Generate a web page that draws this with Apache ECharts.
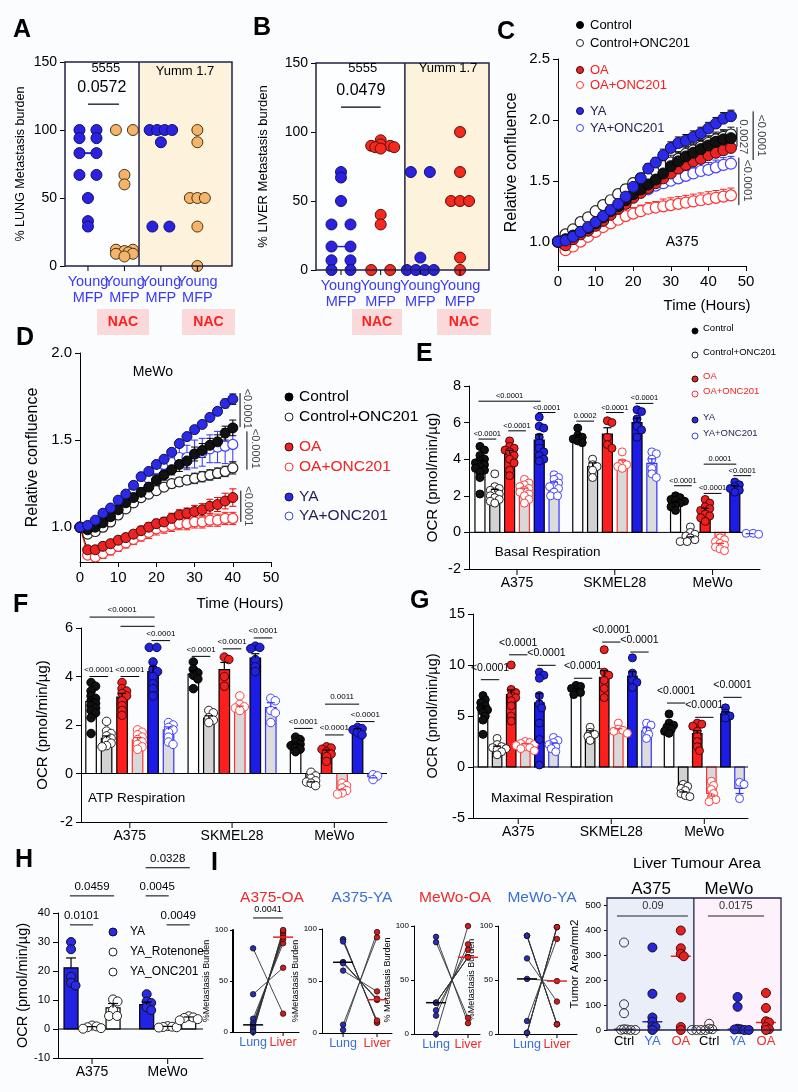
<!DOCTYPE html>
<html><head><meta charset="utf-8">
<script src="https://cdn.jsdelivr.net/npm/echarts@6/dist/echarts.min.js"></script>
<style>html,body{margin:0;padding:0;background:#fbfcfe;}#chart{width:798px;height:1092px;}</style>
</head><body><div id="chart"></div>
<script>
// ================= DATA =================
// Panel A : % LUNG metastasis burden
const A_cats = ['Young\nMFP', 'Young\nMFP', 'Young\nMFP', 'Young\nMFP'];
const A_young5555 = [100, 100, 94, 94, 83, 83, 67, 67, 50, 33, 29];
const A_nac5555 = [100, 100, 67, 60, 12, 12, 11, 10, 9, 9, 7];
const A_youngYumm = [100, 100, 100, 100, 91, 29, 29];
const A_nacYumm = [100, 91, 50, 50, 50, 29, 0];
const A_p = '0.0572';
// Panel B : % LIVER metastasis burden
const B_cats = ['Young\nMFP', 'Young\nMFP', 'Young\nMFP', 'Young\nMFP'];
const B_young5555 = [71, 67, 50, 33, 33, 17, 17, 7, 7, 0, 0];
const B_nac5555 = [94, 91, 90, 90, 89, 89, 88, 40, 33, 0, 0];
const B_youngYumm = [71, 71, 9, 0, 0, 0, 0];
const B_nacYumm = [100, 71, 50, 50, 50, 9, 0];
const B_p = '0.0479';
// Panel C : A375 relative confluence
const C_time = [0, 2, 4, 6, 8, 10, 12, 14, 16, 18, 20, 22, 24, 26, 28, 30, 32, 34, 36, 38, 40, 42, 44, 46];
const C_ctrl = [1.00, 1.02, 1.05, 1.08, 1.11, 1.15, 1.20, 1.25, 1.29, 1.34, 1.39, 1.43, 1.47, 1.51, 1.56, 1.62, 1.66, 1.70, 1.73, 1.76, 1.79, 1.82, 1.84, 1.85];
const C_ctrlOnc = [1.00, 1.06, 1.10, 1.16, 1.20, 1.25, 1.30, 1.34, 1.39, 1.43, 1.48, 1.52, 1.55, 1.58, 1.62, 1.65, 1.68, 1.72, 1.75, 1.78, 1.81, 1.84, 1.86, 1.88];
const C_oa = [1.00, 0.97, 1.02, 1.06, 1.09, 1.13, 1.17, 1.22, 1.27, 1.31, 1.36, 1.40, 1.44, 1.48, 1.52, 1.56, 1.60, 1.63, 1.66, 1.68, 1.71, 1.73, 1.75, 1.77];
const C_oaOnc = [1.00, 0.93, 0.96, 1.00, 1.04, 1.08, 1.12, 1.15, 1.18, 1.21, 1.23, 1.25, 1.27, 1.28, 1.29, 1.30, 1.31, 1.32, 1.33, 1.34, 1.35, 1.36, 1.37, 1.38];
const C_ya = [1.00, 1.01, 1.04, 1.08, 1.12, 1.16, 1.21, 1.26, 1.31, 1.37, 1.45, 1.52, 1.60, 1.65, 1.71, 1.77, 1.81, 1.83, 1.86, 1.89, 1.93, 1.97, 2.01, 2.03];
const C_yaOnc = [1.00, 0.99, 1.03, 1.07, 1.11, 1.15, 1.19, 1.24, 1.29, 1.34, 1.40, 1.41, 1.43, 1.46, 1.48, 1.50, 1.52, 1.54, 1.56, 1.58, 1.59, 1.61, 1.63, 1.64];
const C_ctrlErr = [0, 0.01, 0.01, 0.02, 0.02, 0.02, 0.03, 0.03, 0.03, 0.04, 0.04, 0.05, 0.06, 0.06, 0.07, 0.07, 0.07, 0.07, 0.07, 0.07, 0.07, 0.07, 0.07, 0.07];
const C_ctrlOncErr = [0, 0.01, 0.01, 0.02, 0.02, 0.02, 0.03, 0.03, 0.03, 0.04, 0.04, 0.04, 0.05, 0.05, 0.06, 0.06, 0.06, 0.06, 0.06, 0.06, 0.06, 0.06, 0.06, 0.06];
const C_oaErr = [0, 0.01, 0.01, 0.01, 0.01, 0.01, 0.02, 0.02, 0.02, 0.02, 0.02, 0.02, 0.03, 0.03, 0.03, 0.03, 0.03, 0.03, 0.03, 0.03, 0.03, 0.03, 0.03, 0.03];
const C_oaOncErr = [0, 0.01, 0.02, 0.02, 0.03, 0.03, 0.03, 0.04, 0.04, 0.04, 0.05, 0.05, 0.05, 0.05, 0.06, 0.06, 0.06, 0.06, 0.06, 0.06, 0.06, 0.06, 0.06, 0.06];
const C_yaErr = [0, 0.01, 0.01, 0.01, 0.02, 0.02, 0.02, 0.02, 0.03, 0.03, 0.03, 0.04, 0.04, 0.04, 0.05, 0.05, 0.05, 0.05, 0.05, 0.05, 0.05, 0.05, 0.05, 0.05];
const C_yaOncErr = [0, 0.01, 0.01, 0.01, 0.02, 0.02, 0.02, 0.03, 0.03, 0.03, 0.03, 0.04, 0.04, 0.04, 0.05, 0.05, 0.05, 0.05, 0.05, 0.06, 0.06, 0.06, 0.06, 0.06];
const C_sigLines = [[47.6, 1.94, 1.78], [51.9, 2.07, 1.67], [48.1, 1.69, 1.30]];
const C_sigText = [[49.2, 1.86, '0.0027'], [54.0, 1.87, '<0.0001'], [50.3, 1.50, '<0.0001']];
// Panel D : MeWo relative confluence
const D_time = [0, 2, 4, 6, 8, 10, 12, 14, 16, 18, 20, 22, 24, 26, 28, 30, 32, 34, 36, 38, 40];
const D_ctrl = [1.00, 0.985, 1.00, 1.025, 1.06, 1.10, 1.14, 1.17, 1.20, 1.23, 1.27, 1.30, 1.33, 1.36, 1.38, 1.42, 1.44, 1.47, 1.49, 1.54, 1.57];
const D_ctrlOnc = [1.00, 0.96, 0.975, 1.00, 1.03, 1.07, 1.105, 1.14, 1.17, 1.19, 1.21, 1.23, 1.25, 1.26, 1.27, 1.28, 1.29, 1.30, 1.31, 1.32, 1.34];
const D_oa = [1.00, 0.87, 0.87, 0.89, 0.905, 0.925, 0.94, 0.96, 0.98, 1.00, 1.02, 1.03, 1.05, 1.07, 1.08, 1.09, 1.10, 1.12, 1.13, 1.15, 1.17];
const D_oaOnc = [1.00, 0.84, 0.83, 0.85, 0.87, 0.89, 0.91, 0.93, 0.95, 0.97, 0.99, 1.00, 1.01, 1.02, 1.02, 1.03, 1.03, 1.04, 1.04, 1.05, 1.05];
const D_ya = [1.00, 1.01, 1.04, 1.08, 1.11, 1.155, 1.19, 1.24, 1.29, 1.32, 1.36, 1.39, 1.43, 1.48, 1.52, 1.56, 1.59, 1.63, 1.665, 1.71, 1.735];
const D_yaOnc = [1.00, 0.98, 1.00, 1.03, 1.07, 1.10, 1.15, 1.21, 1.25, 1.28, 1.335, 1.36, 1.37, 1.40, 1.40, 1.42, 1.43, 1.45, 1.46, 1.465, 1.475];
const D_ctrlErr = [0, 0.02, 0.02, 0.02, 0.02, 0.02, 0.02, 0.03, 0.03, 0.03, 0.03, 0.03, 0.03, 0.04, 0.04, 0.04, 0.04, 0.04, 0.04, 0.04, 0.045];
const D_ctrlOncErr = [0, 0.01, 0.01, 0.01, 0.01, 0.015, 0.015, 0.015, 0.02, 0.02, 0.02, 0.02, 0.025, 0.025, 0.025, 0.03, 0.03, 0.03, 0.03, 0.03, 0.035];
const D_oaErr = [0, 0.015, 0.02, 0.02, 0.02, 0.02, 0.02, 0.02, 0.025, 0.025, 0.025, 0.025, 0.03, 0.03, 0.03, 0.035, 0.035, 0.04, 0.04, 0.045, 0.05];
const D_oaOncErr = [0, 0.02, 0.025, 0.03, 0.03, 0.03, 0.03, 0.03, 0.03, 0.035, 0.035, 0.035, 0.035, 0.035, 0.035, 0.035, 0.035, 0.035, 0.035, 0.035, 0.035];
const D_yaErr = [0, 0.01, 0.01, 0.01, 0.01, 0.01, 0.01, 0.01, 0.01, 0.01, 0.015, 0.015, 0.015, 0.015, 0.015, 0.015, 0.015, 0.02, 0.02, 0.025, 0.03];
const D_yaOncErr = [0, 0.01, 0.01, 0.01, 0.01, 0.015, 0.015, 0.02, 0.02, 0.03, 0.03, 0.04, 0.05, 0.06, 0.07, 0.08, 0.08, 0.08, 0.09, 0.10, 0.10];
const D_sigLines = [[41.9, 1.77, 1.575], [43.7, 1.55, 1.33], [42.1, 1.21, 1.03]];
const D_sigText = [[43.8, 1.68, '<0.0001'], [45.9, 1.45, '<0.0001'], [44.1, 1.12, '<0.0001']];
// Conditions / cell lines for OCR panels
const CONDS = ['Control', 'Control+ONC201', 'OA', 'OA+ONC201', 'YA', 'YA+ONC201'];
const LINES = ['A375', 'SKMEL28', 'MeWo'];
// Panel E : Basal respiration (mean, sem, points) [cell line][condition]
const E_mean = [[3.75, 2.2, 4.28, 2.3, 5.05, 2.6], [5.17, 3.6, 5.37, 3.8, 6.0, 3.77], [1.6, -0.2, 1.22, -0.55, 2.45, -0.05]];
const E_sem = [[0.2, 0.15, 0.2, 0.12, 0.3, 0.15], [0.15, 0.2, 0.35, 0.15, 0.25, 0.25], [0.06, 0.05, 0.1, 0.06, 0.1, 0.02]];
const E_pts = [
  [[4.7, 4.5, 4.2, 4.0, 3.9, 3.8, 3.7, 3.6, 3.5, 3.4, 3.3, 3.0, 2.1], [3.2, 2.5, 2.4, 2.3, 2.2, 2.1, 2.0, 1.9, 1.8, 1.7, 1.6], [5.0, 4.7, 4.6, 4.5, 4.4, 4.2, 4.0, 3.8, 3.4, 3.1], [2.9, 2.7, 2.6, 2.5, 2.4, 2.3, 2.2, 2.1, 2.0, 1.8, 1.6], [6.3, 5.8, 5.7, 5.2, 4.9, 4.6, 4.4, 4.2, 4.0, 3.9], [3.15, 3.0, 2.9, 2.7, 2.6, 2.5, 2.4, 2.2, 2.0, 2.0]],
  [[5.7, 5.3, 5.2, 5.1, 5.0, 4.9], [4.0, 3.7, 3.6, 3.4, 3.0], [6.1, 6.0, 5.2, 4.8, 4.6], [4.4, 3.8, 3.7, 3.6, 3.5], [6.7, 6.6, 6.2, 5.8, 5.6, 5.2], [4.4, 4.3, 4.0, 3.5, 3.2, 3.0]],
  [[2.0, 1.9, 1.8, 1.75, 1.7, 1.6, 1.5, 1.4, 1.2], [0.3, 0.0, -0.1, -0.2, -0.3, -0.4, -0.5, -0.5], [1.8, 1.6, 1.4, 1.3, 1.2, 1.0, 0.9, 0.8, 0.6], [-0.3, -0.4, -0.5, -0.6, -0.7, -0.8, -0.9, -1.0], [2.75, 2.6, 2.5, 2.4, 2.3, 2.2], [-0.05, -0.1, -0.05]]
];
const E_sig = [[0, 1, 5.1, '<0.0001'], [2, 3, 5.55, '<0.0001'], [4, 5, 6.55, '<0.0001'], [0, 4, 7.17, '<0.0001'], [6, 7, 6.08, '0.0002'], [8, 9, 6.55, '<0.0001'], [10, 11, 7.05, '<0.0001'], [12, 13, 2.55, '<0.0001'], [14, 15, 2.13, '<0.0001'], [14, 16, 3.73, '0.0001'], [16, 17, 3.1, '<0.0001']];
// Panel F : ATP respiration
const F_mean = [[2.97, 1.45, 3.15, 1.38, 4.2, 1.8], [4.1, 2.28, 4.28, 2.7, 4.76, 2.72], [1.17, -0.3, 0.9, -0.62, 1.78, -0.13]];
const F_sem = [[0.12, 0.1, 0.15, 0.1, 0.22, 0.12], [0.15, 0.1, 0.3, 0.08, 0.18, 0.2], [0.04, 0.05, 0.07, 0.05, 0.07, 0.05]];
const F_pts = [
  [[3.75, 3.6, 3.4, 3.2, 3.1, 3.0, 2.9, 2.8, 2.7, 2.6, 2.5, 2.3, 1.65], [2.15, 1.75, 1.65, 1.55, 1.45, 1.35, 1.25, 1.15, 1.1], [3.75, 3.5, 3.4, 3.3, 3.2, 3.0, 2.8, 2.6, 2.4], [1.8, 1.7, 1.6, 1.5, 1.4, 1.3, 1.2, 1.1, 1.0], [5.2, 5.2, 4.6, 4.3, 4.2, 4.0, 3.7, 3.5, 3.2], [2.1, 2.0, 1.9, 1.8, 1.7, 1.5, 1.3, 1.2]],
  [[4.6, 4.3, 4.15, 4.05, 3.9, 3.5], [2.6, 2.5, 2.3, 2.2, 2.1], [4.8, 4.7, 4.0, 3.6], [3.2, 2.85, 2.75, 2.7, 2.6], [5.25, 5.2, 5.15, 4.7, 4.4, 4.2], [3.1, 3.0, 2.6, 2.5, 2.1]],
  [[1.5, 1.4, 1.3, 1.2, 1.15, 1.1, 1.0, 0.9], [0.05, -0.1, -0.2, -0.3, -0.35, -0.4, -0.5], [1.1, 1.05, 1.0, 0.9, 0.8, 0.7, 0.5], [-0.4, -0.5, -0.6, -0.7, -0.8, -0.85], [1.9, 1.85, 1.8, 1.7, 1.6], [-0.05, -0.1, -0.25]]
];
const F_sig = [[0, 1, 4.0, '<0.0001'], [2, 3, 4.0, '<0.0001'], [4, 5, 5.48, '<0.0001'], [0, 4, 6.45, '<0.0001'], [2, 4, 6.07, ''], [6, 7, 4.83, '<0.0001'], [8, 9, 5.14, '<0.0001'], [10, 11, 5.59, '<0.0001'], [12, 13, 1.86, '<0.0001'], [14, 15, 1.59, '<0.0001'], [14, 16, 2.86, '0.0011'], [16, 17, 2.14, '<0.0001']];
// Panel G : Maximal respiration
const G_mean = [[5.6, 1.9, 7.1, 2.2, 6.3, 2.2], [7.5, 3.3, 8.8, 3.55, 8.9, 3.55], [3.95, -2.3, 3.27, -2.6, 5.2, -2.1]];
const G_sem = [[0.35, 0.15, 0.45, 0.08, 0.9, 0.15], [0.2, 0.25, 0.65, 0.2, 0.45, 0.3], [0.2, 0.15, 0.3, 0.25, 0.2, 0.5]];
const G_pts = [
  [[7.0, 6.6, 6.3, 6.0, 5.8, 5.6, 5.4, 5.0, 4.6, 3.2], [2.8, 2.2, 2.0, 1.9, 1.8, 1.7, 1.5, 1.2], [10.0, 7.6, 7.3, 7.0, 6.8, 6.5, 6.0, 5.0, 4.5], [2.5, 2.4, 2.3, 2.2, 2.1, 2.0, 1.9, 1.8, 1.6], [9.3, 9.0, 8.7, 7.0, 6.2, 5.8, 4.3, 2.7, 0.2], [2.9, 2.6, 2.4, 2.2, 2.0, 1.8, 1.5]],
  [[8.0, 7.9, 7.7, 7.5, 7.3, 7.1], [3.9, 3.4, 3.2, 3.0, 2.6], [11.5, 9.3, 9.0, 8.5, 7.7, 6.8], [4.3, 3.7, 3.6, 3.5, 3.3], [10.7, 9.2, 8.5, 8.3, 7.8], [4.3, 4.1, 3.6, 3.2, 2.8]],
  [[5.2, 4.3, 4.1, 3.9, 3.7, 3.5, 3.3], [-1.7, -1.9, -2.1, -2.3, -2.6, -2.8, -2.9], [4.3, 4.2, 4.0, 3.5, 3.0, 2.5, 2.0, 1.6], [-1.4, -1.8, -2.2, -2.6, -3.0, -3.2, -3.4], [5.8, 5.3, 5.0, 4.8], [-1.5, -1.7, -3.1]]
];
const G_sig = [[0, 1, 8.56, '<0.0001'], [2, 3, 11.0, '<0.0001'], [4, 5, 9.97, '<0.0001'], [6, 7, 8.7, '<0.0001'], [8, 9, 12.25, '<0.0001'], [10, 11, 11.27, '<0.0001'], [12, 13, 6.27, '<0.0001'], [14, 15, 4.87, '<0.0001'], [16, 17, 6.83, '<0.0001']];
// Panel H : OCR YA / Rotenone / ONC201
const H_conds = ['YA', 'YA_Rotenone', 'YA_ONC201'];
const H_lines = ['A375', 'MeWo'];
const H_mean = [[21.1, 0.6, 7.3], [8.4, 0.8, 3.8]];
const H_sem = [[3.4, 0.2, 1.5], [0.9, 0.1, 0.35]];
const H_pts = [[[30, 27.5, 18, 16, 15], [1.2, 0.9, 0.6, 0.3, 0.1], [10.2, 9.5, 6.5, 4.5, 4.5]], [[12, 9.5, 9, 7.5, 6.5], [1.0, 0.8, 0.7, 0.6, 0.5], [4.4, 4.0, 3.8, 3.4, 3.0]]];
const H_sig = [[0, 1, 35.9, '0.0101'], [0, 2, 45.9, '0.0459'], [3, 4, 45.9, '0.0045'], [3, 5, 55.6, '0.0328'], [4, 5, 35.9, '0.0049']];
// Panel I : paired lung / liver % metastasis burden
const I_titles = ['A375-OA', 'A375-YA', 'MeWo-OA', 'MeWo-YA'];
const I1_lung = [82, 37, 13, 9, 7, 5, 3, 1, 0];
const I1_liver = [18, 63, 87, 91, 93, 95, 97, 99, 100];
const I2_lung = [90, 90, 88, 68, 68, 67, 60, 8, 3];
const I2_liver = [10, 10, 12, 32, 32, 33, 40, 92, 97];
const I3_lung = [90, 85, 29, 29, 29, 22, 17, 0];
const I3_liver = [10, 15, 71, 71, 71, 78, 83, 100];
const I4_lung = [91, 91, 91, 70, 51, 12, 1, 1, 1];
const I4_liver = [9, 9, 9, 30, 49, 88, 99, 99, 99];
const I1_p = '0.0041';
// Panel I (right) : Liver tumour area
const I5_cats = ['Ctrl', 'YA', 'OA', 'Ctrl', 'YA', 'OA'];
const I5_a375Ctrl = [350, 103, 67, 3, 2, 1, 0, 0];
const I5_a375YA = [330, 145, 50, 33, 15, 12, 0];
const I5_a375OA = [398, 327, 305, 295, 130, 12, 0];
const I5_mewoCtrl = [25, 5, 3, 0, 0, 0, 0];
const I5_mewoYA = [132, 93, 5, 3, 2, 0, 0];
const I5_mewoOA = [148, 88, 35, 30, 12, 3, 0];
const I5_yTicks = [0, 100, 200, 300, 400, 500];
const I5_p = ['0.09', '0.0175'];

// ================= HELPERS =================
const FONT = "'Liberation Sans', Arial, Helvetica, sans-serif";
const fnt = (s, w) => (w || 'normal') + ' ' + s + 'px ' + FONT;
const grids = [], xAxes = [], yAxes = [], series = [], graphics = [];
const RED = '#f42020', NAVY = '#1f1f55', LBLUE = '#3a3af2', IBLUE = '#3b6fd4', IRED = '#ee2a2a';

function merge(a, b) {
  for (const k in b) {
    const v = b[k];
    if (v && typeof v === 'object' && !Array.isArray(v)) a[k] = merge(a[k] && typeof a[k] === 'object' ? a[k] : {}, v);
    else if (v !== undefined) a[k] = v;
  }
  return a;
}
function axisBase(i) {
  return {gridIndex: i, type: 'value', splitLine: {show: false},
    axisLine: {show: true, onZero: false, lineStyle: {color: '#000', width: 1}},
    axisTick: {show: true, length: 5, lineStyle: {color: '#000', width: 1}},
    axisLabel: {color: '#000', fontFamily: FONT, fontSize: 14, margin: 8},
    nameLocation: 'middle', nameTextStyle: {color: '#000', fontFamily: FONT, fontSize: 14}};
}
function addGrid(g) {
  const i = grids.length;
  grids.push({left: g.left, top: g.top, width: g.width, height: g.height});
  xAxes.push(merge(merge(axisBase(i), {min: g.x[0], max: g.x[1], interval: g.x[2]}), g.xo || {}));
  yAxes.push(merge(merge(axisBase(i), {min: g.y[0], max: g.y[1], interval: g.y[2], nameRotate: 90}), g.yo || {}));
  return {i, x0: g.x[0], x1: g.x[1], y0: g.y[0], y1: g.y[1], kx: g.width / (g.x[1] - g.x[0]), ky: g.height / (g.y[1] - g.y[0])};
}
function T(x, y, text, o) {
  o = o || {};
  const al = o.align || 'center', va = o.va || 'middle';
  const st = {text: text, fill: o.color || '#000', font: fnt(o.size || 12, o.weight), align: al, verticalAlign: va, textAlign: al, textVerticalAlign: va};
  if (o.lh) st.lineHeight = o.lh;
  return {type: 'text', x: x, y: y, rotation: o.rot || 0, silent: true, style: st};
}
const L = (a, b, c, w) => ({type: 'line', shape: {x1: a[0], y1: a[1], x2: b[0], y2: b[1]}, style: {stroke: c || '#000', lineWidth: w || 1}});
function custom(G, items, draw, z) {
  return {type: 'custom', coordinateSystem: 'cartesian2d', xAxisIndex: G.i, yAxisIndex: G.i, clip: false, silent: true, animation: false, z: z || 3,
    data: items.map(() => [G.x0, G.y0]),
    renderItem: (p, api) => draw(items[p.dataIndex], api)};
}
function segs(G, list, color, w, z) {
  return custom(G, list, (d, api) => L(api.coord([d[0], d[1]]), api.coord([d[2], d[3]]), color, w), z);
}
function texts(G, list, z) {
  return custom(G, list, (d, api) => {
    const p = api.coord([d[0], d[1]]); const o = d[3] || {};
    return T(p[0] + (o.dx || 0), p[1] + (o.dy || 0), d[2], o);
  }, z || 7);
}
function rects(G, list, z) {
  return custom(G, list, (d, api) => {
    const a = api.coord([d[0], d[3]]), b = api.coord([d[2], d[1]]);
    return {type: 'rect', shape: {x: a[0], y: a[1], width: b[0] - a[0], height: b[1] - a[1]}, style: d[4]};
  }, z);
}
function catAxis(G, list, o) {
  return custom(G, list, (d, api) => {
    const p = api.coord([d[0], G.y0]); const ch = [];
    if (o.tick) ch.push(L([p[0], p[1]], [p[0], p[1] + o.tick], '#000', 1));
    ch.push(T(p[0], p[1] + o.dy, d[1], {size: o.size, color: d[2] || '#000', va: o.va || 'middle', lh: o.lh}));
    return {type: 'group', children: ch};
  }, 7);
}
function scat(G, data, o) {
  return {type: 'scatter', xAxisIndex: G.i, yAxisIndex: G.i, data: data, symbol: 'circle', symbolSize: o.size, silent: true, animation: false,
    itemStyle: {color: o.fill, borderColor: o.stroke, borderWidth: o.bw == null ? 1 : o.bw, opacity: 1}, z: o.z || 4};
}
function median(a) { const s = a.slice().sort((x, y) => x - y), n = s.length; return n % 2 ? s[(n - 1) / 2] : (s[n / 2 - 1] + s[n / 2]) / 2; }
// beeswarm layout: identical values spread symmetrically (pairs wider apart), others nudged to limit overlaps
function swarm(vals, cx, G, sp, dc, spMulti) {
  const rows = [];
  vals.slice().sort((a, b) => b - a).forEach(v => { const r = rows.find(r => r.v === v); if (r) r.n++; else rows.push({v: v, n: 1}); });
  const placed = [], out = [], step = dc / 2;
  rows.forEach(r => {
    const py = r.v * G.ky; let pos = null;
    const gap = r.n > 2 && spMulti ? spMulti : sp;
    for (let k = 0; k < 80 && !pos; k++) {
      for (const c of (k === 0 ? [0] : [k * step, -k * step])) {
        const ps = []; for (let i = 0; i < r.n; i++) ps.push(c + (i - (r.n - 1) / 2) * gap);
        if (ps.every(x => placed.every(q => Math.hypot(q[0] - x, q[1] - py) >= dc))) { pos = ps; break; }
      }
    }
    if (!pos) pos = [0];
    pos.forEach(x => { placed.push([x, py]); out.push([cx + x / G.kx, r.v]); });
  });
  return out;
}
function legend(items, o) {
  items.forEach(it => {
    const label = it[0], kind = it[1], col = it[2], tcol = it[3], y = it[4];
    const filled = kind === 'f';
    graphics.push({type: 'circle', silent: true, shape: {cx: o.sx, cy: y + (o.sdy || 0), r: o.r},
      style: {fill: filled ? col : '#fff', stroke: filled ? (it[5] || '#111') : col, lineWidth: 1}});
    graphics.push(T(o.tx, y, label, {size: o.size, color: tcol, align: 'left'}));
  });
}
function gtext(x, y, text, o) { graphics.push(T(x, y, text, o)); }

// ================= PANEL A =================
const GA = addGrid({left: 65, top: 62, width: 167, height: 204, x: [0.37, 4.95], y: [0, 150, 50],
  xo: {axisLine: {show: false}, axisTick: {show: false}, axisLabel: {show: false}},
  yo: {name: '% LUNG Metastasis burden', nameGap: 38, nameTextStyle: {fontSize: 12.5}}});
series.push(rects(GA, [[GA.x0, 0, 2.4, 150, {fill: '#fdfeff'}], [2.4, 0, GA.x1, 150, {fill: '#fdf3dc'}]], 1));
series.push(rects(GA, [[GA.x0, 0, GA.x1, 150, {fill: 'none', stroke: '#22224a', lineWidth: 1.5}]], 6));
series.push(segs(GA, [[2.4, 0, 2.4, 150]], '#22224a', 1.5, 6));
[A_young5555, A_nac5555, A_youngYumm, A_nacYumm].forEach((vals, k) => {
  const young = k % 2 === 0, hw = 9 / GA.kx, m = median(vals);
  series.push(segs(GA, [[k + 1 - hw, m, k + 1 + hw, m]], young ? '#2b22e0' : '#3a2a10', 2, 3));
  series.push(scat(GA, swarm(vals, k + 1, GA, 17, 4, 7.5), {size: 11, fill: young ? '#2b22e0' : '#f4b46c', stroke: young ? '#14106a' : '#4a3312', z: 4}));
});
series.push(catAxis(GA, A_cats.map((c, k) => [k + 1, c, LBLUE]), {tick: 5, dy: 8, size: 14.5, va: 'top', lh: 16}));
series.push(texts(GA, [[1.49, 145, '5555', {size: 13}], [1.38, 131, A_p, {size: 16}], [3.66, 143, 'Yumm 1.7', {size: 13}]]));
series.push(segs(GA, [[1.0, 119, 1.85, 119]], '#000', 1.2, 6));

// ================= PANEL B =================
const GB = addGrid({left: 316, top: 63, width: 173, height: 207, x: [0.37, 4.73], y: [0, 150, 50],
  xo: {axisLine: {show: false}, axisTick: {show: false}, axisLabel: {show: false}},
  yo: {name: '% LIVER Metastasis burden', nameGap: 46, nameTextStyle: {fontSize: 13}}});
series.push(rects(GB, [[GB.x0, 0, 2.61, 150, {fill: '#fdfeff'}], [2.61, 0, GB.x1, 150, {fill: '#fdf3dc'}]], 1));
series.push(rects(GB, [[GB.x0, 0, GB.x1, 150, {fill: 'none', stroke: '#22224a', lineWidth: 1.5}]], 6));
series.push(segs(GB, [[2.61, 0, 2.61, 150]], '#22224a', 1.5, 6));
[B_young5555, B_nac5555, B_youngYumm, B_nacYumm].forEach((vals, k) => {
  const young = k % 2 === 0, hw = 10 / GB.kx, m = median(vals);
  series.push(segs(GB, [[k + 1 - hw, m, k + 1 + hw, m]], young ? '#2b22e0' : '#6a1010', 1.5, 3));
  series.push(scat(GB, swarm(vals, k + 1, GB, 19, 4, 9), {size: 11, fill: young ? '#2b22e0' : '#f42a1e', stroke: young ? '#14106a' : '#5a0c08', z: 4}));
});
series.push(catAxis(GB, B_cats.map((c, k) => [k + 1, c, LBLUE]), {tick: 5, dy: 8, size: 14.5, va: 'top', lh: 16}));
series.push(texts(GB, [[1.55, 146, '5555', {size: 13}], [1.5, 130, B_p, {size: 16}], [3.7, 146, 'Yumm 1.7', {size: 13}]]));
series.push(segs(GB, [[1.0, 118, 2.0, 118]], '#000', 1.2, 6));

// NAC boxes under A and B
[[97, 52], [182, 53], [352, 50], [437, 54]].forEach(b => {
  graphics.push({type: 'rect', silent: true, shape: {x: b[0], y: 309, width: b[1], height: 26}, style: {fill: '#fbd9da'}});
  gtext(b[0] + b[1] / 2, 322, 'NAC', {size: 14, weight: 'bold', color: '#ff1e1e'});
});

// ================= TIME SERIES (C, D) =================
const TS = {
  ctrl: {fill: '#111', stroke: '#000', line: '#000', err: '#000', bw: 1, z: 6},
  ctrlOnc: {fill: '#fff', stroke: '#222', line: '#333', err: '#222', bw: 1.2, z: 5},
  oa: {fill: '#ee2222', stroke: '#3a0a0a', line: '#5a0a0a', err: '#e00', bw: 1, z: 6},
  oaOnc: {fill: '#fff', stroke: '#ff3333', line: '#ff3333', err: '#f22', bw: 1.2, z: 5},
  ya: {fill: '#2a2ae8', stroke: '#10104a', line: '#10104a', err: '#111', bw: 1, z: 7},
  yaOnc: {fill: '#fff', stroke: '#4040ff', line: '#4040ff', err: '#33f', bw: 1.2, z: 5}
};
function tsPanel(G, time, sets, both, size) {
  sets.forEach(s => {
    const st = TS[s.key];
    const items = time.map((t, k) => ({x: t, y: s.v[k], e: s.e[k]})).filter(d => d.e > 0);
    series.push(custom(G, items, (d, api) => {
      const m = api.coord([d.x, d.y]), t = api.coord([d.x, d.y + d.e]), b = api.coord([d.x, d.y - d.e]);
      const ch = [L(both ? b : m, t, st.err, 1), L([t[0] - 3.5, t[1]], [t[0] + 3.5, t[1]], st.err, 1)];
      if (both) ch.push(L([b[0] - 3.5, b[1]], [b[0] + 3.5, b[1]], st.err, 1));
      return {type: 'group', children: ch};
    }, 3));
    series.push({type: 'line', xAxisIndex: G.i, yAxisIndex: G.i, data: time.map((t, k) => [t, s.v[k]]), symbol: 'circle', symbolSize: size,
      showSymbol: true, showAllSymbol: true, silent: true, animation: false, z: st.z,
      lineStyle: {color: st.line, width: 1}, itemStyle: {color: st.fill, borderColor: st.stroke, borderWidth: st.bw}});
  });
}
// Panel C
const GC = addGrid({left: 558, top: 59, width: 188, height: 207, x: [0, 50, 10], y: [0.8, 2.5],
  xo: {axisLabel: {fontSize: 15}},
  yo: {name: 'Relative confluence', nameGap: 38, nameTextStyle: {fontSize: 16},
    axisLabel: {fontSize: 15, customValues: [1, 1.5, 2, 2.5], formatter: v => v.toFixed(1)}, axisTick: {customValues: [1, 1.5, 2, 2.5]}}});
tsPanel(GC, C_time, [
  {key: 'oaOnc', v: C_oaOnc, e: C_oaOncErr}, {key: 'yaOnc', v: C_yaOnc, e: C_yaOncErr}, {key: 'ctrlOnc', v: C_ctrlOnc, e: C_ctrlOncErr},
  {key: 'oa', v: C_oa, e: C_oaErr}, {key: 'ctrl', v: C_ctrl, e: C_ctrlErr}, {key: 'ya', v: C_ya, e: C_yaErr}], false, 11);
series.push(segs(GC, C_sigLines.map(s => [s[0], s[1], s[0], s[2]]), '#000', 1, 6));
series.push(texts(GC, C_sigText.map(s => [s[0], s[1], s[2], {size: 11.5, rot: -Math.PI / 2, color: '#444'}])));
series.push(texts(GC, [[33, 1.0, 'A375', {size: 14}]]));
gtext(707, 306, 'Time (Hours)', {size: 15});
legend([['Control', 'f', '#000', '#000', 25, '#000'], ['Control+ONC201', 'o', '#222', '#000', 43], ['OA', 'f', '#ee2222', RED, 70, '#3a0a0a'],
  ['OA+ONC201', 'o', '#ff3333', RED, 85], ['YA', 'f', '#2a2ae8', NAVY, 111, '#10104a'], ['YA+ONC201', 'o', '#4040ff', NAVY, 128]],
  {sx: 580, tx: 590, r: 3.5, size: 13});
// Panel D
const GD = addGrid({left: 80, top: 353, width: 191, height: 209, x: [0, 50, 10], y: [0.8, 2.0],
  xo: {axisLabel: {fontSize: 15}},
  yo: {name: 'Relative confluence', nameGap: 39, nameTextStyle: {fontSize: 16},
    axisLabel: {fontSize: 15, customValues: [1, 1.5, 2], formatter: v => v.toFixed(1)}, axisTick: {customValues: [1, 1.5, 2]}}});
tsPanel(GD, D_time, [
  {key: 'oaOnc', v: D_oaOnc, e: D_oaOncErr}, {key: 'yaOnc', v: D_yaOnc, e: D_yaOncErr}, {key: 'ctrlOnc', v: D_ctrlOnc, e: D_ctrlOncErr},
  {key: 'oa', v: D_oa, e: D_oaErr}, {key: 'ctrl', v: D_ctrl, e: D_ctrlErr}, {key: 'ya', v: D_ya, e: D_yaErr}], true, 10);
series.push(segs(GD, D_sigLines.map(s => [s[0], s[1], s[0], s[2]]), '#000', 1, 6));
series.push(texts(GD, D_sigText.map(s => [s[0], s[1], s[2], {size: 11, rot: -Math.PI / 2, color: '#444'}])));
series.push(texts(GD, [[19.1, 1.89, 'MeWo', {size: 14}]]));
gtext(240, 604, 'Time (Hours)', {size: 15});
legend([['Control', 'f', '#000', '#000', 397, '#000'], ['Control+ONC201', 'o', '#222', '#000', 417], ['OA', 'f', '#ee2222', RED, 447, '#3a0a0a'],
  ['OA+ONC201', 'o', '#ff3333', RED, 467], ['YA', 'f', '#2a2ae8', NAVY, 497, '#10104a'], ['YA+ONC201', 'o', '#4040ff', NAVY, 516]],
  {sx: 289, tx: 299, r: 4, size: 15.5});

// ================= BAR PANELS (E, F, G, H) =================
const COND_STYLE = [
  {fill: '#ffffff', stroke: '#000', pt: '#111', ptStroke: '#000', err: '#000'},
  {fill: '#d2d2d2', stroke: '#000', pt: '#fff', ptStroke: '#222', err: '#000'},
  {fill: '#ff1e1e', stroke: '#000', pt: '#ee2020', ptStroke: '#4a0808', err: '#000'},
  {fill: '#d8d8d8', stroke: '#ff3030', pt: '#fff', ptStroke: '#ff4040', err: '#ff3030'},
  {fill: '#1c1ce6', stroke: '#000', pt: '#2222dd', ptStroke: '#0a0a50', err: '#000'},
  {fill: '#dcdcdc', stroke: '#3333ff', pt: '#fff', ptStroke: '#4444ff', err: '#3333ff'}
];
const STRIDE = 6.6;
function barPanel(G, means, sems, pts, conds, stride, o) {
  const n = conds.length;
  const xOf = idx => Math.floor(idx / n) * stride + idx % n;
  const bars = [], errs = [];
  means.forEach((grp, g) => grp.forEach((v, j) => {
    const x = g * stride + j;
    bars.push({x: x, v: v, fill: conds[j].fill, stroke: conds[j].stroke});
    errs.push({x: x, v: v, e: sems[g][j], c: conds[j].err});
  }));
  series.push(custom(G, bars, (d, api) => {
    const a = api.coord([d.x, 0]), b = api.coord([d.x, d.v]);
    return {type: 'rect', shape: {x: a[0] - o.bw / 2, y: Math.min(a[1], b[1]), width: o.bw, height: Math.abs(b[1] - a[1])}, style: {fill: d.fill, stroke: d.stroke, lineWidth: 1.2}};
  }, 2));
  series.push(segs(G, [[G.x0, 0, G.x1, 0]], '#000', 1, 3));
  conds.forEach((c, j) => {
    let data = [];
    pts.forEach((grp, g) => { data = data.concat(swarm(grp[j], g * stride + j, G, o.sp, o.dc)); });
    series.push(scat(G, data, {size: o.ps, fill: c.pt, stroke: c.ptStroke, bw: 1, z: 4}));
  });
  series.push(custom(G, errs, (d, api) => {
    const s = d.v >= 0 ? 1 : -1;
    const m = api.coord([d.x, d.v]), t = api.coord([d.x, d.v + s * d.e]);
    return {type: 'group', children: [L(m, t, d.c, 1.2), L([t[0] - o.cap, t[1]], [t[0] + o.cap, t[1]], d.c, 1.2)]};
  }, 5));
  series.push(custom(G, o.sigs, (s, api) => {
    const a = api.coord([xOf(s[0]) - o.pad, s[2]]), b = api.coord([xOf(s[1]) + o.pad, s[2]]);
    const ch = [L(a, b, '#000', 1)];
    if (s[3]) ch.push(T((a[0] + b[0]) / 2, a[1] - o.off, s[3], {size: o.ts}));
    return {type: 'group', children: ch};
  }, 6));
}
// Panel E
const GE = addGrid({left: 469, top: 386, width: 291, height: 183, x: [-0.74, 18.9], y: [-2, 8, 2],
  xo: {axisTick: {show: false}, axisLabel: {show: false}},
  yo: {name: 'OCR (pmol/min/µg)', nameGap: 29, nameTextStyle: {fontSize: 15}, axisLabel: {fontSize: 14.5}}});
barPanel(GE, E_mean, E_sem, E_pts, COND_STYLE, STRIDE, {bw: 10, ps: 8, sp: 7, dc: 4.5, cap: 4, sigs: E_sig, pad: 0.1, off: 5, ts: 7.5});
series.push(catAxis(GE, LINES.map((c, g) => [g * STRIDE + 2.5, c]), {tick: 6, dy: 14, size: 14}));
series.push(texts(GE, [[1.0, -1.07, 'Basal Respiration', {size: 13.5, align: 'left'}]]));
legend(CONDS.map((c, j) => [c, j % 2 ? 'o' : 'f', ['#000', '#222', '#ee2222', '#ff3333', '#2a2ae8', '#4040ff'][j], j < 2 ? '#000' : (j < 4 ? RED : NAVY), [328, 352, 376, 391, 417, 433][j]]),
  {sx: 695, tx: 703, r: 3, sdy: 3, size: 9.5});
// Panel F
const GF = addGrid({left: 81, top: 628, width: 306, height: 194, x: [-0.65, 19.1], y: [-2, 6, 2],
  xo: {axisTick: {show: false}, axisLabel: {show: false}},
  yo: {name: 'OCR (pmol/min/µg)', nameGap: 31, nameTextStyle: {fontSize: 15}, axisLabel: {fontSize: 14.5}}});
barPanel(GF, F_mean, F_sem, F_pts, COND_STYLE, STRIDE, {bw: 10.5, ps: 8.5, sp: 7.5, dc: 4.5, cap: 4, sigs: F_sig, pad: 0.1, off: 7, ts: 8});
series.push(catAxis(GF, LINES.map((c, g) => [g * STRIDE + 2.5, c]), {tick: 6, dy: 14, size: 14}));
series.push(texts(GF, [[-0.2, -1.02, 'ATP Respiration', {size: 13.5, align: 'left'}]]));
// Panel G
const GG = addGrid({left: 473, top: 614, width: 275, height: 204, x: [-0.71, 18.8], y: [-5, 15, 5],
  xo: {axisTick: {show: false}, axisLabel: {show: false}},
  yo: {name: 'OCR (pmol/min/µg)', nameGap: 33, nameTextStyle: {fontSize: 14.5}, axisLabel: {fontSize: 14.5}}});
barPanel(GG, G_mean, G_sem, G_pts, COND_STYLE, STRIDE, {bw: 9.5, ps: 8, sp: 7, dc: 4.5, cap: 4, sigs: G_sig, pad: 0.15, off: 12, ts: 10.5});
series.push(catAxis(GG, LINES.map((c, g) => [g * STRIDE + 2.5, c]), {tick: 6, dy: 14, size: 14}));
series.push(texts(GG, [[0.57, -3.1, 'Maximal Respiration', {size: 13.5, align: 'left'}]]));
// Panel H
const H_STYLE = [
  {fill: '#2222e2', stroke: '#000', pt: '#2a2aea', ptStroke: '#111', err: '#000'},
  {fill: '#ffffff', stroke: '#000', pt: '#fff', ptStroke: '#222', err: '#000'},
  {fill: '#ffffff', stroke: '#000', pt: '#fff', ptStroke: '#222', err: '#000'}
];
const GH = addGrid({left: 58, top: 913, width: 145, height: 145, x: [-0.62, 6.28], y: [-10, 40, 10],
  xo: {axisTick: {show: false}, axisLabel: {show: false}},
  yo: {name: 'OCR (pmol/min/µg)', nameGap: 28, nameTextStyle: {fontSize: 14.5}, axisLabel: {fontSize: 11}}});
barPanel(GH, H_mean, H_sem, H_pts, H_STYLE, 3.6, {bw: 14, ps: 9, sp: 8, dc: 4.5, cap: 5, sigs: H_sig, pad: 0.05, off: 9, ts: 11.5});
series.push(catAxis(GH, H_lines.map((c, g) => [g * 3.6 + 1, c]), {tick: 6, dy: 14, size: 14}));
legend(H_conds.map((c, j) => [c, j ? 'o' : 'f', j ? '#222' : '#2a2aea', '#000', [932, 952, 972][j]]), {sx: 113, tx: 130, r: 4, size: 12});

// ================= PANEL I (paired) =================
function pairPanel(rect, lung, liver, title, tcolor, yname, bold) {
  const G = addGrid({left: rect[0], top: rect[1], width: rect[2], height: rect[3], x: [rect[4], rect[5]], y: [0, 100, 50],
    xo: {axisTick: {show: false}, axisLabel: {show: false}},
    yo: {name: yname, nameGap: rect[6], nameTextStyle: {fontSize: 9}, axisLabel: {fontSize: 8, margin: 5}, axisTick: {length: 3},
      axisLine: {lineStyle: {width: bold ? 2 : 1}}}});
  series.push(segs(G, lung.map((v, k) => [0, v, 1, liver[k]]), '#333', 0.9, 3));
  series.push(scat(G, lung.map(v => [0, v]), {size: 5.5, fill: '#2b2bb8', stroke: '#111', bw: 0.8, z: 4}));
  series.push(scat(G, liver.map(v => [1, v]), {size: 5.5, fill: '#c82020', stroke: '#3a0808', bw: 0.8, z: 4}));
  const hw = 10 / G.kx, ml = median(lung), mv = median(liver);
  series.push(segs(G, [[-hw, ml, hw, ml]], '#000', 1.5, 5));
  series.push(segs(G, [[1 - hw, mv, 1 + hw, mv]], '#e52020', 1.5, 5));
  series.push(catAxis(G, [[0, 'Lung', IBLUE], [1, 'Liver', IRED]], {tick: 4, dy: 11, size: 12.5}));
  gtext(rect[7], 898, title, {size: 15.5, color: tcolor});
  return G;
}
const GI1 = pairPanel([233, 930, 66, 102, -0.67, 1.53, 20, 272], I1_lung, I1_liver, I_titles[0], IRED, '%Metastasis Burden', true);
series.push(segs(GI1, [[0, 111.8, 1, 111.8]], '#000', 1, 6));
series.push(texts(GI1, [[0.5, 111.8, I1_p, {size: 9, dy: -8}]]));
pairPanel([322, 929, 70, 104, -0.62, 1.44, 15, 362], I2_lung, I2_liver, I_titles[1], IBLUE, '%Metastasis Burden', false);
pairPanel([414, 926, 66, 108, -0.69, 1.375, 14, 455], I3_lung, I3_liver, I_titles[2], IRED, '% Metastasis Burden', false);
pairPanel([498, 926, 79, 108, -0.97, 1.67, 10, 542], I4_lung, I4_liver, I_titles[3], IBLUE, '%Metastasis Burden', false);

// ================= PANEL I (tumour area) =================
const GI5 = addGrid({left: 607, top: 898, width: 174, height: 132, x: [-0.6, 5.53], y: [0, 528],
  xo: {axisLine: {show: false}, axisTick: {show: false}, axisLabel: {show: false}},
  yo: {name: 'Tumor Area/mm2', nameGap: 23, nameTextStyle: {fontSize: 11.5},
    axisLabel: {fontSize: 9.5, margin: 6, customValues: I5_yTicks}, axisTick: {length: 3, customValues: I5_yTicks}}});
series.push(rects(GI5, [[GI5.x0, 0, 2.46, 528, {fill: '#e9eef8'}], [2.46, 0, GI5.x1, 528, {fill: '#fdf1fb'}]], 1));
series.push(rects(GI5, [[GI5.x0, 0, GI5.x1, 528, {fill: 'none', stroke: '#23234a', lineWidth: 1.3}]], 6));
series.push(segs(GI5, [[2.46, 0, 2.46, 528]], '#23234a', 1.3, 6));
const I5_style = [
  {fill: 'rgba(0,0,0,0)', stroke: '#333', med: '#111'},
  {fill: '#2727d9', stroke: '#111', med: '#2727d9'},
  {fill: '#e52222', stroke: '#4a0a0a', med: '#e52222'}
];
[I5_a375Ctrl, I5_a375YA, I5_a375OA, I5_mewoCtrl, I5_mewoYA, I5_mewoOA].forEach((vals, k) => {
  const st = I5_style[k % 3], hw = 10 / GI5.kx, m = median(vals);
  series.push(segs(GI5, [[k - hw, m, k + hw, m]], st.med, 1.5, 3));
  series.push(scat(GI5, swarm(vals, k, GI5, 4.5, 3), {size: 9, fill: st.fill, stroke: st.stroke, bw: 1, z: 4}));
});
series.push(catAxis(GI5, I5_cats.map((c, k) => [k, c, ['#000', IBLUE, IRED][k % 3]]), {tick: 0, dy: 11, size: 13}));
series.push(segs(GI5, [[-0.25, 456, 2.25, 456], [2.96, 456, 4.93, 456]], '#222', 1.2, 6));
series.push(texts(GI5, [[1.02, 456, I5_p[0], {size: 11, color: '#333', dy: -10}], [3.94, 456, I5_p[1], {size: 11, color: '#333', dy: -10}]]));
gtext(697, 864, 'Liver Tumour Area', {size: 15.5});
gtext(651, 889, 'A375', {size: 17});
gtext(729, 889, 'MeWo', {size: 17});

// ================= PANEL LETTERS =================
[['A', 13, 30], ['B', 253, 28], ['C', 497, 32], ['D', 16, 338], ['E', 416, 354], ['F', 13, 605], ['G', 410, 601], ['H', 15, 860], ['I', 211, 863]]
  .forEach(l => gtext(l[1], l[2], l[0], {size: 25, weight: 'bold', align: 'left'}));

const chart = echarts.init(document.getElementById('chart'), null, {renderer: 'canvas', width: 798, height: 1092});
chart.setOption({animation: false, backgroundColor: '#fbfcfe', textStyle: {fontFamily: FONT},
  grid: grids, xAxis: xAxes, yAxis: yAxes, series: series, graphic: {elements: graphics}});
</script></body></html>
